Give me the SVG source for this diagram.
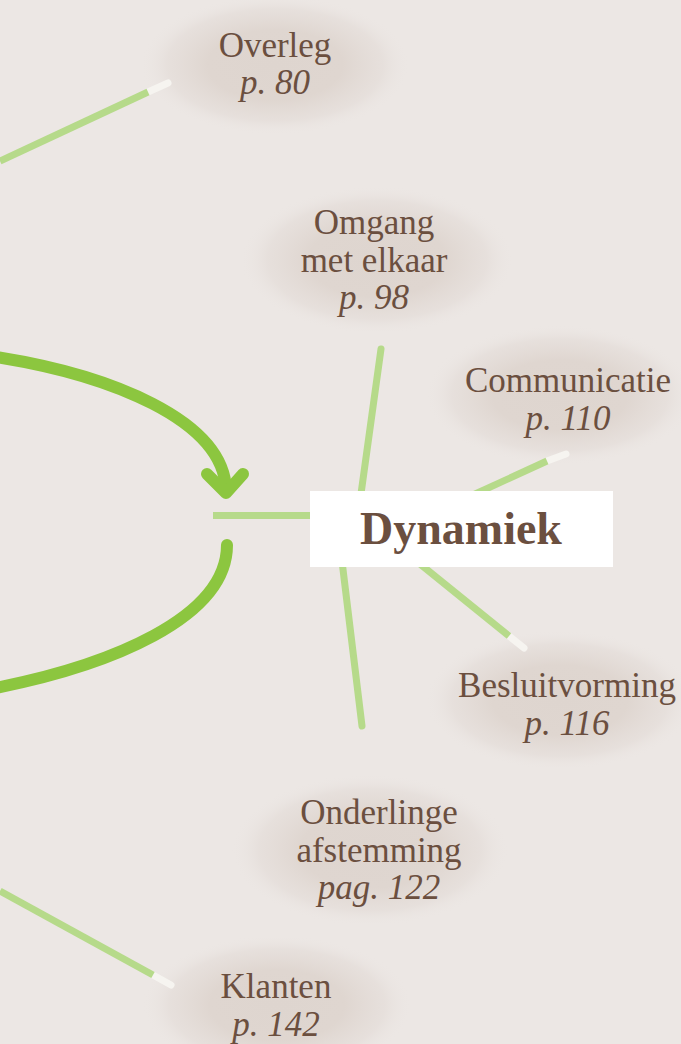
<svg xmlns="http://www.w3.org/2000/svg" width="681" height="1044" viewBox="0 0 681 1044">
<defs>
<radialGradient id="glow">
<stop offset="0" stop-color="#DED5CF"/>
<stop offset="0.5" stop-color="#DFD6D0"/>
<stop offset="0.8" stop-color="#E5DEDA" stop-opacity="0.8"/>
<stop offset="1" stop-color="#ECE7E4" stop-opacity="0"/>
</radialGradient>
<style>
.glow{fill:url(#glow)}
.lbl{font-family:"Liberation Serif","Times New Roman",serif;font-size:35px;fill:#6B4F3F;text-anchor:middle}
.pg{font-style:italic}
.title{font-family:"Liberation Serif","Times New Roman",serif;font-size:46px;font-weight:bold;fill:#6B4F3F;text-anchor:middle}
.ln{stroke:#B6DA8A;stroke-width:7;fill:none}
.rnd{stroke-linecap:round}
.tip{stroke:#F6F4F0;stroke-width:7;fill:none;stroke-linecap:round}
.arr{stroke:#8CC63F;stroke-width:12;fill:none;stroke-linecap:round;stroke-linejoin:round}
</style>
</defs>
<rect width="681" height="1044" fill="#ECE7E4"/>
<g id="glows">
<ellipse class="glow" cx="275" cy="65" rx="135" ry="70"/>
<ellipse class="glow" cx="377" cy="260" rx="137" ry="74"/>
<ellipse class="glow" cx="560" cy="395" rx="135" ry="70"/>
<ellipse class="glow" cx="560" cy="700" rx="135" ry="70"/>
<ellipse class="glow" cx="370" cy="850" rx="139" ry="76"/>
<ellipse class="glow" cx="277" cy="1005" rx="135" ry="70"/>
</g>
<g id="connectors">
<line class="tip" x1="148" y1="92" x2="168" y2="83"/>
<line class="ln" x1="0" y1="161" x2="148" y2="92"/>
<line class="tip" x1="153" y1="975" x2="171" y2="985"/>
<line class="ln" x1="0" y1="891" x2="153" y2="975"/>
<line class="tip" x1="547" y1="461" x2="566" y2="454"/>
<line class="ln" x1="462" y1="500" x2="547" y2="461"/>
<line class="tip" x1="509" y1="636" x2="524" y2="648"/>
<line class="ln" x1="420" y1="564" x2="509" y2="636"/>
<line class="ln rnd" x1="381" y1="349" x2="356" y2="530"/>
<line class="ln rnd" x1="337" y1="520" x2="362" y2="726"/>
<line class="ln" x1="213" y1="515.5" x2="330" y2="515.5"/>
<path class="arr" d="M -10 356 C 110 374, 224 420, 226 490"/>
<path class="arr" d="M 207 474 L 226 493 L 243 474"/>
<path class="arr" d="M 227 545 C 227 618, 110 666, -10 689"/>
</g>
<g id="node-dynamiek">
<rect x="310" y="491" width="303" height="76" fill="#FFFFFF"/>
<text class="title" x="461" y="544">Dynamiek</text>
</g>
<g id="node-overleg">
<text class="lbl" x="275" y="57">Overleg</text>
<text class="lbl pg" x="275" y="94">p. 80</text>
</g>
<g id="node-omgang">
<text class="lbl" x="374" y="234">Omgang</text>
<text class="lbl" x="374" y="272">met elkaar</text>
<text class="lbl pg" x="374" y="309">p. 98</text>
</g>
<g id="node-communicatie">
<text class="lbl" x="568" y="392">Communicatie</text>
<text class="lbl pg" x="568" y="430">p. 110</text>
</g>
<g id="node-besluitvorming">
<text class="lbl" x="567" y="697">Besluitvorming</text>
<text class="lbl pg" x="567" y="735">p. 116</text>
</g>
<g id="node-onderlinge">
<text class="lbl" x="379" y="824">Onderlinge</text>
<text class="lbl" x="379" y="862">afstemming</text>
<text class="lbl pg" x="379" y="899">pag. 122</text>
</g>
<g id="node-klanten">
<text class="lbl" x="276" y="998">Klanten</text>
<text class="lbl pg" x="276" y="1036">p. 142</text>
</g>
</svg>
